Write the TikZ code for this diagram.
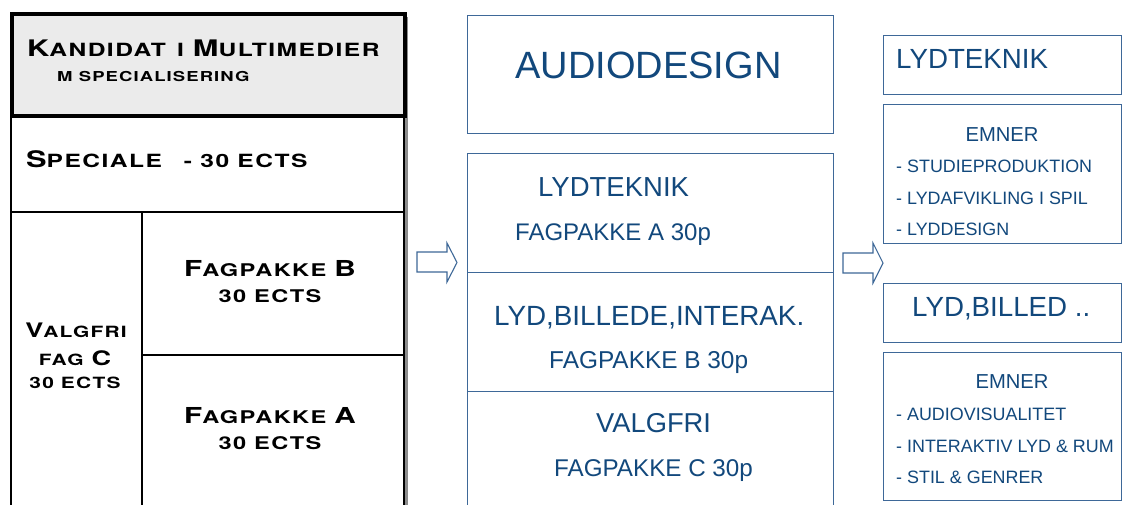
\documentclass[tikz,border=0pt]{standalone}
\usepackage{fontspec}
\setmainfont{Liberation Sans}
\newfontfamily\cpfont[FakeStretch=1.35,LetterSpace=8]{TeX Gyre Heros}
\definecolor{bluetxt}{RGB}{18,72,124}
\definecolor{blueline}{RGB}{62,104,152}
\definecolor{titlegray}{RGB}{235,235,235}
\newcommand\cpB[1]{{\fontsize{22}{24}\selectfont #1}}
\newcommand\cpS[1]{{\fontsize{17.5}{20}\selectfont #1}}
\newcommand\cpBt[1]{{\fontsize{22.8}{24}\selectfont #1}}
\newcommand\cpSt[1]{{\fontsize{18.2}{20}\selectfont #1}}
\newcommand\cpBv[1]{{\fontsize{20}{24}\selectfont #1}}
\newcommand\cpSv[1]{{\fontsize{15.5}{20}\selectfont #1}}
\tikzset{
  cptext/.style={font=\cpfont\bfseries\fontsize{17.5}{20}\selectfont, text=black, inner sep=0pt},
  btext/.style={text=bluetxt, inner sep=0pt},
  bluebox/.style={draw=blueline, line width=1.3pt, fill=white, inner sep=0pt},
  cell/.style={draw=black, line width=2pt, inner sep=0pt},
  blockarrow/.style={draw=blueline, line width=1.1pt, fill=white, line join=miter},
}
\begin{document}
\begin{tikzpicture}[x=1pt,y=-1pt]
\clip (0,0) rectangle (1122,504);
\fill[white] (0,0) rectangle (1122,504);

% ---- left block ----
\fill[black!45] (403,17) rectangle (408,510);
\node[cell, minimum width=393pt, minimum height=97pt, anchor=north west] (spec) at (10,114) {};
\node[cell, minimum width=131pt, minimum height=300pt, anchor=north west] (valg) at (10,211) {};
\node[cell, minimum width=262pt, minimum height=143pt, anchor=north west] (fagb) at (141,211) {};
\node[cell, minimum width=262pt, minimum height=157pt, anchor=north west] (faga) at (141,354) {};
\node[cell, line width=3.5pt, fill=titlegray, minimum width=393pt, minimum height=102pt, anchor=north west] (title) at (10,12) {};

\node[cptext, anchor=base west] (t1) at (27,56) {\cpBt{K}\cpSt{ANDIDAT\hspace{3pt} I}\hspace{9pt}\cpBt{M}\cpSt{ULTIMEDIER}};
\node[cptext, anchor=base west] (t2) at (57,81.5) {\fontsize{13.7}{15}\selectfont M SPECIALISERING};
\node[cptext, anchor=base west] (t3) at (26,167) {\cpBt{S}\cpSt{PECIALE}\hspace{22pt}\cpSt{- 30 ECTS}};
\node[cptext, anchor=base] (t4) at (270,276) {\cpB{F}\cpS{AGPAKKE} \cpB{B}};
\node[cptext, anchor=base] (t5) at (270,302) {\cpS{30 ECTS}};
\node[cptext, anchor=base] (t6) at (270,423) {\cpB{F}\cpS{AGPAKKE} \cpB{A}};
\node[cptext, anchor=base] (t7) at (270,449) {\cpS{30 ECTS}};
\node[cptext, anchor=base] (t8) at (76,337) {\cpBv{V}\cpSv{ALGFRI}};
\node[cptext, anchor=base] (t9) at (75,365) {\cpSv{FAG} \cpBv{C}};
\node[cptext, anchor=base] (t10) at (75,388) {\cpSv{30 ECTS}};

% ---- arrows ----
\draw[blockarrow] (417,252) -- (447,252) -- (447,243) -- (457,262.5) -- (447,282) -- (447,272) -- (417,272) -- cycle;
\draw[blockarrow] (843,253) -- (873,253) -- (873,243) -- (883,263) -- (873,283) -- (873,273) -- (843,273) -- cycle;

% ---- middle column ----
\node[bluebox, minimum width=366pt, minimum height=118pt, anchor=north west] (audio) at (467,15) {};
\node[bluebox, minimum width=366pt, minimum height=119pt, anchor=north west] (pa) at (467,153) {};
\node[bluebox, minimum width=366pt, minimum height=119pt, anchor=north west] (pb) at (467,272) {};
\node[bluebox, minimum width=366pt, minimum height=130pt, anchor=north west] (pc) at (467,391) {};

\node[btext, anchor=base, font=\fontsize{38}{40}\selectfont] (m1) at (648.5,78) {AUDIODESIGN};
\node[btext, anchor=base west, font=\fontsize{27.5}{30}\selectfont] (m2) at (538,196) {LYDTEKNIK};
\node[btext, anchor=base west, font=\fontsize{24}{26}\selectfont] (m3) at (515,240) {FAGPAKKE A 30p};
\node[btext, anchor=base west, font=\fontsize{27.8}{30}\selectfont] (m4) at (494,325) {LYD,BILLEDE,INTERAK.};
\node[btext, anchor=base west, font=\fontsize{24.4}{26}\selectfont] (m5) at (549,368) {FAGPAKKE B 30p};
\node[btext, anchor=base west, font=\fontsize{27.3}{30}\selectfont] (m6) at (596,432) {VALGFRI};
\node[btext, anchor=base west, font=\fontsize{24.2}{26}\selectfont] (m7) at (554,476) {FAGPAKKE C 30p};

% ---- right column ----
\node[bluebox, minimum width=238pt, minimum height=59pt, anchor=north west] (r1) at (883,35) {};
\node[bluebox, minimum width=238pt, minimum height=139pt, anchor=north west] (r2) at (883,104) {};
\node[bluebox, minimum width=238pt, minimum height=59pt, anchor=north west] (r3) at (883,283) {};
\node[bluebox, minimum width=238pt, minimum height=148pt, anchor=north west] (r4) at (883,352) {};

\node[btext, anchor=base west, font=\fontsize{27.7}{30}\selectfont] (a1) at (896,68) {LYDTEKNIK};
\node[btext, anchor=base, font=\fontsize{20.2}{22}\selectfont] (a2) at (1002,141) {EMNER};
\node[btext, anchor=base west, font=\fontsize{17.9}{20}\selectfont] (a3) at (896,172) {- STUDIEPRODUKTION};
\node[btext, anchor=base west, font=\fontsize{17.9}{20}\selectfont] (a4) at (896,204) {- LYDAFVIKLING I SPIL};
\node[btext, anchor=base west, font=\fontsize{17.9}{20}\selectfont] (a5) at (896,235) {- LYDDESIGN};

\node[btext, anchor=base west, font=\fontsize{27.7}{30}\selectfont] (b1) at (912,316) {LYD,BILLED ..};
\node[btext, anchor=base, font=\fontsize{20.2}{22}\selectfont] (b2) at (1012,388) {EMNER};
\node[btext, anchor=base west, font=\fontsize{17.9}{20}\selectfont] (b3) at (896,420) {- AUDIOVISUALITET};
\node[btext, anchor=base west, font=\fontsize{17.9}{20}\selectfont] (b4) at (896,452) {- INTERAKTIV LYD \& RUM};
\node[btext, anchor=base west, font=\fontsize{17.9}{20}\selectfont] (b5) at (896,483) {- STIL \& GENRER};
\end{tikzpicture}
\end{document}
